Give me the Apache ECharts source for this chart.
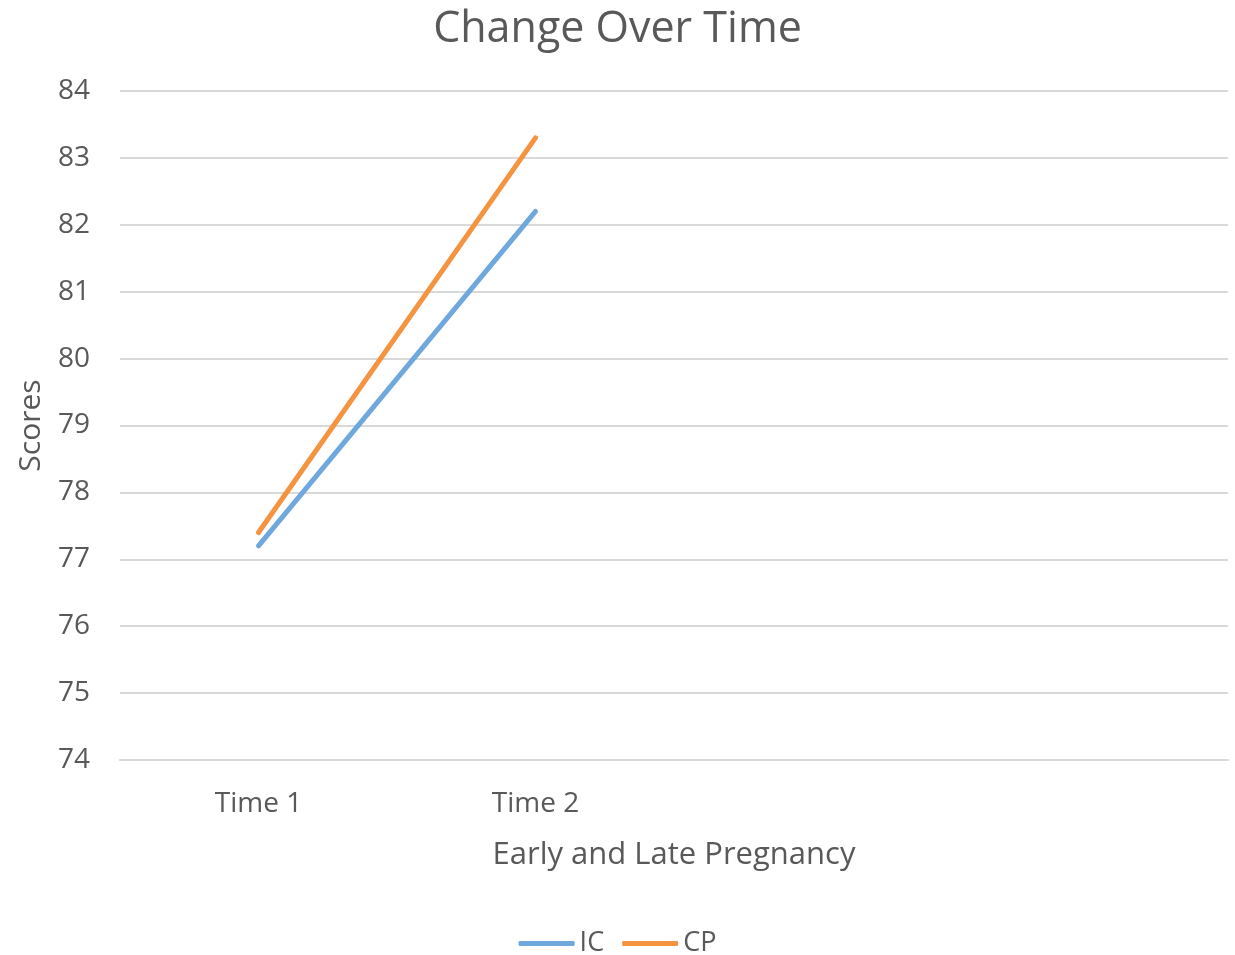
<!DOCTYPE html>
<html><head><meta charset="utf-8">
<script src="https://cdn.jsdelivr.net/npm/echarts@6/dist/echarts.min.js"></script>
<style>html,body{margin:0;padding:0;background:#fff}#c{width:1235px;height:955px}</style>
</head><body><div id="c"></div>
<script>
const categories = ['Time 1', 'Time 2', '', ''];
const icValues = [77.2, 82.2];
const cpValues = [77.4, 83.3];
const yTicks = [74, 84, 1];

const font = '"Open Sans", "Noto Sans", sans-serif';
const txt = '#595959';
const chart = echarts.init(document.getElementById('c'));
chart.setOption({
  animation: false,
  title: { text: 'Change Over Time', left: 'center', top: 3,
    textStyle: { fontFamily: font, fontSize: 43, fontWeight: 'normal', color: txt } },
  grid: { left: 120, right: 7, top: 91, bottom: 195, outerBoundsMode: 'none', containLabel: false },
  legend: { top: 925, left: 'center', itemWidth: 56, itemHeight: 5, itemGap: 18,
    icon: 'roundRect',
    textStyle: { fontFamily: font, fontSize: 27, color: txt },
    data: ['IC', 'CP'] },
  xAxis: { type: 'category', data: categories, boundaryGap: true,
    name: 'Early and Late Pregnancy', nameLocation: 'middle', nameGap: 80,
    nameTextStyle: { fontFamily: font, fontSize: 31, color: txt },
    axisLine: { show: true, lineStyle: { color: '#d9d9d9', width: 2 } },
    axisTick: { show: false },
    axisLabel: { fontFamily: font, fontSize: 28, color: txt, margin: 30 } },
  yAxis: { type: 'value', min: yTicks[0], max: yTicks[1], interval: yTicks[2],
    name: 'Scores', nameLocation: 'middle', nameGap: 74,
    nameTextStyle: { fontFamily: font, fontSize: 30, color: txt },
    axisLine: { show: false }, axisTick: { show: false },
    axisLabel: { fontFamily: font, fontSize: 28, color: txt, margin: 30, padding: [6, 0, 0, 0] },
    splitLine: { lineStyle: { color: '#d9d9d9', width: 2 } } },
  series: [
    { name: 'IC', type: 'line', data: icValues, showSymbol: false, symbol: 'none',
      lineStyle: { color: '#6fa8dc', width: 5, cap: 'round' }, itemStyle: { color: '#6fa8dc' } },
    { name: 'CP', type: 'line', data: cpValues, showSymbol: false, symbol: 'none',
      lineStyle: { color: '#f59440', width: 5, cap: 'round' }, itemStyle: { color: '#f59440' } }
  ]
});
</script></body></html>
